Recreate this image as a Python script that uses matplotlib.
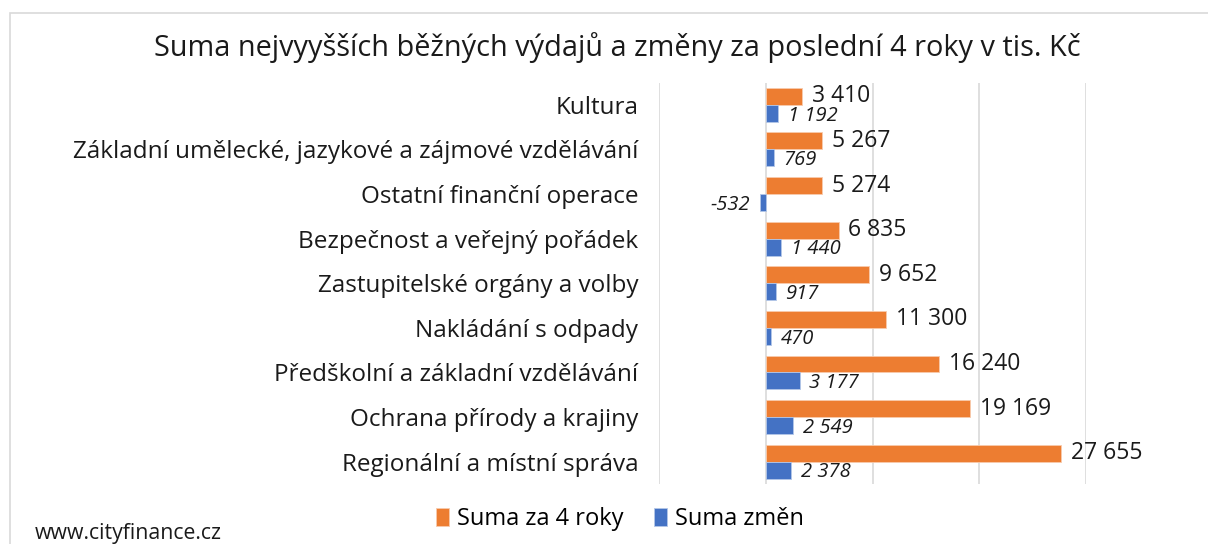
import matplotlib.pyplot as plt
import numpy as np
from matplotlib.patches import Rectangle

# DATA
categories = [
    'Kultura',
    'Základní umělecké, jazykové a zájmové vzdělávání',
    'Ostatní finanční operace',
    'Bezpečnost a veřejný pořádek',
    'Zastupitelské orgány a volby',
    'Nakládání s odpady',
    'Předškolní a základní vzdělávání',
    'Ochrana přírody a krajiny',
    'Regionální a místní správa',
]
suma_4_roky = [3410, 5267, 5274, 6835, 9652, 11300, 16240, 19169, 27655]
suma_zmen = [1192, 769, -532, 1440, 917, 470, 3177, 2549, 2378]
x_ticks = [-10000, 0, 10000, 20000, 30000]

ORANGE = '#ED7D31'
BLUE = '#4472C4'
FONT = 'Open Sans'


def fmt(v):
    return f'{v:,}'.replace(',', ' ')


plt.rcParams['font.family'] = [FONT, 'DejaVu Sans']

fig = plt.figure(figsize=(12.08, 5.44), dpi=100)
ax = fig.add_axes([659 / 1208, 1 - 484 / 544, (1086 - 659) / 1208, (484 - 82.5) / 544])

y = np.arange(len(categories))
h = 0.38
ax.barh(y - h / 2, suma_4_roky, height=h, color=ORANGE, edgecolor='#F8CBAD', linewidth=0.6,
        label='Suma za 4 roky', zorder=3)
ax.barh(y + h / 2, suma_zmen, height=h, color=BLUE, edgecolor='#B4C7E7', linewidth=0.6,
        label='Suma změn', zorder=3)

for yi, v in zip(y, suma_4_roky):
    ax.annotate(fmt(v), (v, yi - h / 2), xytext=(7, 0), textcoords='offset points',
                ha='left', va='center', fontsize=16.5, color='#1a1a1a')
for yi, v in zip(y, suma_zmen):
    off = 7 if v >= 0 else -7
    ax.annotate(fmt(v), (v, yi + h / 2 + 0.05), xytext=(off, 0), textcoords='offset points',
                ha='left' if v >= 0 else 'right', va='center', fontsize=14.5,
                style='italic', color='#1a1a1a')

ax.set_xlim(-10000, 30000)
ax.set_ylim(len(categories) - 0.5, -0.5)
ax.set_xticks(x_ticks)
ax.set_xticklabels([])
ax.set_yticks(y)
ax.set_yticklabels(categories, fontsize=17.5, color='#1a1a1a')
ax.tick_params(axis='both', length=0)
ax.tick_params(axis='y', pad=15)
ax.grid(axis='x', color='#D9D9D9', linewidth=1.2, zorder=0)
for s in ax.spines.values():
    s.set_visible(False)

fig.text(617 / 1208, 1 - 48 / 544, 'Suma nejvyyšších běžných výdajů a změny za poslední 4 roky v tis. Kč',
         ha='center', va='center', fontsize=20.8, color='#1a1a1a')
fig.text(35 / 1208, 1 - 533 / 544, 'www.cityfinance.cz', ha='left', va='center', fontsize=15.3, color='#1a1a1a')

fig.legend(loc='center', bbox_to_anchor=(620 / 1208, 1 - 519 / 544), ncol=2, frameon=False,
           fontsize=17, handlelength=0.55, handleheight=0.8, handletextpad=0.35, columnspacing=1.3)

fig.patches.append(Rectangle((10 / 1208, -0.1), 1.2, 1 - 13 / 544 + 0.1, transform=fig.transFigure,
                             fill=False, edgecolor='#D9D9D9', linewidth=1.2))

fig.savefig('out.png', dpi=100)
